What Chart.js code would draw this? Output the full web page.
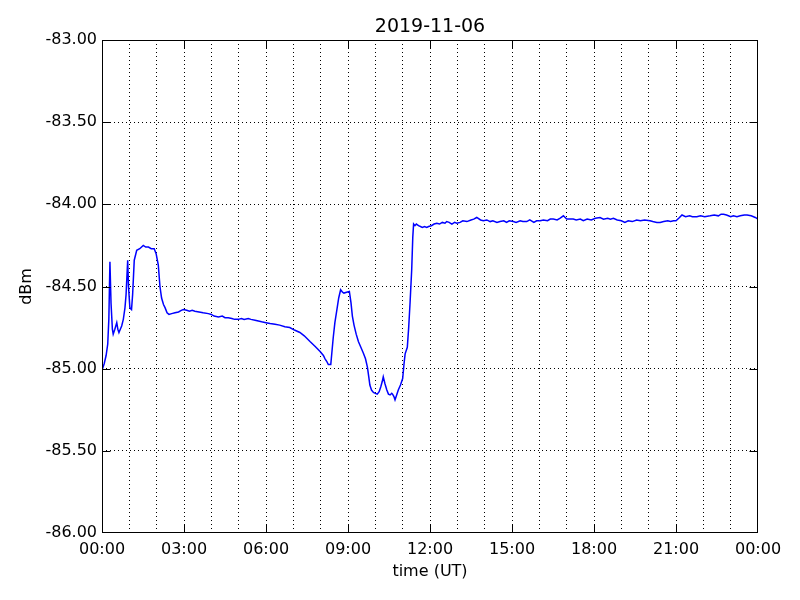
<!DOCTYPE html>
<html>
<head>
<meta charset="utf-8">
<script src="https://cdn.jsdelivr.net/npm/chart.js@4/dist/chart.umd.min.js"></script>
<style>
  html, body { margin: 0; padding: 0; background: #fff; }
  canvas { display: block; }
</style>
</head>
<body>
<canvas id="chart" width="800" height="600"></canvas>
<script>
const chartTitle = '2019-11-06';
const xTitle = 'time (UT)';
const yTitle = 'dBm';

// time of day in hours, and signal level in dBm
const hours = [
  0.00, 0.08, 0.15, 0.21, 0.25, 0.29, 0.33, 0.38, 0.41, 0.47, 0.54, 0.58, 0.62, 0.67, 0.72, 0.78,
  0.84, 0.88, 0.94, 0.97, 1.02, 1.08, 1.12, 1.18, 1.27, 1.38, 1.51, 1.60, 1.70, 1.80, 1.91, 1.98,
  2.06, 2.12, 2.18, 2.25, 2.31, 2.38, 2.45, 2.55, 2.67, 2.80, 2.90, 2.98, 3.10, 3.20, 3.30, 3.40,
  3.55, 3.70, 3.89, 4.00, 4.10, 4.26, 4.40, 4.50, 4.62, 4.75, 4.85, 4.99, 5.10, 5.20, 5.35, 5.45,
  5.60, 5.72, 5.84, 6.00, 6.15, 6.33, 6.50, 6.69, 6.87, 7.04, 7.24, 7.40, 7.61, 7.80, 7.98, 8.10,
  8.16, 8.22, 8.28, 8.37, 8.46, 8.52, 8.59, 8.66, 8.73, 8.80, 8.85, 8.95, 9.05, 9.11, 9.16, 9.22,
  9.30, 9.38, 9.47, 9.56, 9.64, 9.71, 9.76, 9.80, 9.86, 9.93, 10.00, 10.07, 10.14, 10.20, 10.25, 10.29,
  10.35, 10.42, 10.48, 10.54, 10.60, 10.63, 10.68, 10.72, 10.78, 10.84, 10.92, 11.00, 11.05, 11.09, 11.17, 11.22,
  11.27, 11.33, 11.37, 11.40, 11.45, 11.50, 11.58, 11.65, 11.72, 11.80, 11.88, 11.95, 12.05, 12.15, 12.25, 12.35,
  12.45, 12.55, 12.61, 12.70, 12.80, 12.90, 12.98, 13.10, 13.20, 13.35, 13.50, 13.60, 13.71, 13.85, 13.95, 14.08,
  14.20, 14.30, 14.45, 14.56, 14.70, 14.80, 14.90, 15.05, 15.15, 15.30, 15.40, 15.54, 15.65, 15.80, 15.90, 16.03,
  16.15, 16.30, 16.40, 16.51, 16.65, 16.75, 16.88, 17.00, 17.12, 17.24, 17.35, 17.50, 17.61, 17.75, 17.90, 18.05,
  18.22, 18.35, 18.50, 18.60, 18.71, 18.85, 19.00, 19.13, 19.25, 19.40, 19.56, 19.70, 19.85, 20.05, 20.15, 20.30,
  20.42, 20.55, 20.70, 20.80, 20.91, 21.00, 21.10, 21.22, 21.35, 21.50, 21.60, 21.76, 21.90, 22.05, 22.25, 22.40,
  22.55, 22.65, 22.74, 22.85, 23.00, 23.10, 23.23, 23.35, 23.50, 23.60, 23.75, 23.90, 24.00
];
const dbm = [
  -85.01, -84.97, -84.92, -84.85, -84.70, -84.35, -84.60, -84.76, -84.79, -84.76, -84.72, -84.76, -84.78, -84.76, -84.74, -84.70,
  -84.63, -84.55, -84.34, -84.50, -84.63, -84.64, -84.55, -84.34, -84.28, -84.27, -84.25, -84.26, -84.26, -84.27, -84.27, -84.30,
  -84.37, -84.50, -84.57, -84.61, -84.63, -84.66, -84.67, -84.665, -84.66, -84.655, -84.645, -84.64, -84.645, -84.65, -84.645, -84.65,
  -84.655, -84.66, -84.665, -84.67, -84.68, -84.685, -84.68, -84.69, -84.69, -84.695, -84.70, -84.70, -84.695, -84.70, -84.695, -84.70,
  -84.705, -84.71, -84.715, -84.72, -84.725, -84.73, -84.735, -84.745, -84.75, -84.765, -84.78, -84.80, -84.835, -84.865, -84.895, -84.92,
  -84.94, -84.955, -84.975, -84.975, -84.81, -84.72, -84.645, -84.57, -84.52, -84.535, -84.54, -84.535, -84.53, -84.60, -84.68, -84.735,
  -84.79, -84.835, -84.87, -84.905, -84.94, -84.99, -85.05, -85.10, -85.13, -85.145, -85.15, -85.155, -85.14, -85.11, -85.08, -85.05,
  -85.09, -85.13, -85.155, -85.16, -85.15, -85.155, -85.17, -85.19, -85.16, -85.13, -85.10, -85.06, -84.97, -84.91, -84.87, -84.75,
  -84.60, -84.40, -84.20, -84.12, -84.13, -84.12, -84.13, -84.135, -84.14, -84.135, -84.14, -84.135, -84.13, -84.12, -84.115, -84.12,
  -84.11, -84.115, -84.105, -84.11, -84.12, -84.11, -84.115, -84.11, -84.10, -84.105, -84.095, -84.09, -84.08, -84.095, -84.10, -84.095,
  -84.105, -84.10, -84.11, -84.105, -84.10, -84.11, -84.10, -84.105, -84.11, -84.10, -84.105, -84.105, -84.095, -84.11, -84.10, -84.10,
  -84.095, -84.10, -84.09, -84.09, -84.095, -84.085, -84.07, -84.09, -84.09, -84.09, -84.095, -84.09, -84.10, -84.09, -84.095, -84.085,
  -84.08, -84.09, -84.085, -84.09, -84.085, -84.095, -84.10, -84.11, -84.10, -84.105, -84.095, -84.10, -84.095, -84.10, -84.105, -84.11,
  -84.11, -84.105, -84.10, -84.105, -84.10, -84.10, -84.085, -84.065, -84.075, -84.07, -84.075, -84.075, -84.07, -84.075, -84.07, -84.065,
  -84.07, -84.06, -84.06, -84.065, -84.075, -84.07, -84.075, -84.07, -84.065, -84.065, -84.07, -84.08, -84.09
];

const yMin = -86, yMax = -83, yStep = 0.5;
const xMin = 0, xMax = 24, xLabelEvery = 3;

const FONT = 'DejaVu Sans';

function hourLabel(h) {
  const hh = Math.round(h) % 24;
  return String(hh).padStart(2, '0') + ':00';
}

// no dotted line on top of the frame itself
function gridColor(min, max) {
  return (c) => (c.tick && (c.tick.value === min || c.tick.value === max) ? 'rgba(0,0,0,0)' : '#000');
}

// frame, inward major ticks and the text around the axes
const framePlugin = {
  id: 'frame',
  afterDraw(chart) {
    const { ctx, chartArea: a, scales } = chart;
    const tick = 8;
    const L = a.left + 0.5, R = a.right - 0.5, T = a.top + 0.5, B = a.bottom - 0.5;
    const clamp = (v, lo, hi) => Math.min(hi, Math.max(lo, v));
    ctx.save();
    ctx.strokeStyle = '#000';
    ctx.lineWidth = 1;
    ctx.setLineDash([]);
    ctx.beginPath();
    for (let v = yMin; v <= yMax + 1e-9; v += yStep) {
      const y = clamp(Math.round(scales.y.getPixelForValue(v)) + 0.5, T, B);
      ctx.moveTo(L, y); ctx.lineTo(L + tick, y);
      ctx.moveTo(R, y); ctx.lineTo(R - tick, y);
    }
    for (let h = xMin; h <= xMax; h += xLabelEvery) {
      const x = clamp(Math.round(scales.x.getPixelForValue(h)) + 0.5, L, R);
      ctx.moveTo(x, B); ctx.lineTo(x, B - tick);
      ctx.moveTo(x, T); ctx.lineTo(x, T + tick);
    }
    ctx.stroke();
    ctx.strokeRect(L, T, R - L, B - T);

    ctx.fillStyle = '#000';
    ctx.textAlign = 'center';
    ctx.textBaseline = 'middle';
    ctx.font = '19px "' + FONT + '"';
    ctx.fillText(chartTitle, (a.left + a.right) / 2, 27);
    ctx.font = '16px "' + FONT + '"';
    ctx.fillText(xTitle, (a.left + a.right) / 2, 572);
    ctx.translate(27, (a.top + a.bottom) / 2);
    ctx.rotate(-Math.PI / 2);
    ctx.fillText(yTitle, 0, 0);
    ctx.restore();
  }
};

const points = hours.map((h, i) => ({ x: h, y: dbm[i] }));

new Chart(document.getElementById('chart'), {
  type: 'line',
  data: {
    datasets: [{
      data: points,
      borderColor: '#0000ff',
      borderWidth: 1.5,
      pointRadius: 0,
      tension: 0,
      fill: false,
    }]
  },
  options: {
    responsive: false,
    animation: false,
    layout: { padding: { top: 40, right: 42, left: 0, bottom: 0 } },
    plugins: { legend: { display: false }, title: { display: false }, tooltip: { enabled: false } },
    scales: {
      x: {
        type: 'linear',
        min: xMin, max: xMax,
        afterFit(scale) { scale.height = 67; },
        grid: { color: gridColor(xMin, xMax), lineWidth: 1, drawTicks: false },
        border: { display: false, dash: [1, 3] },
        ticks: {
          stepSize: 1,
          autoSkip: false,
          maxRotation: 0,
          padding: 7,
          color: '#000',
          font: { family: FONT, size: 16 },
          callback: (v) => (v % xLabelEvery === 0 ? hourLabel(v) : ''),
        },
      },
      y: {
        min: yMin, max: yMax,
        afterFit(scale) { scale.width = 102; },
        grid: { color: gridColor(yMin, yMax), lineWidth: 1, drawTicks: false },
        border: { display: false, dash: [1, 3] },
        ticks: {
          stepSize: yStep,
          padding: 5,
          color: '#000',
          font: { family: FONT, size: 16 },
          callback: (v) => v.toFixed(2),
        },
      },
    },
  },
  plugins: [framePlugin],
});
</script>
</body>
</html>
